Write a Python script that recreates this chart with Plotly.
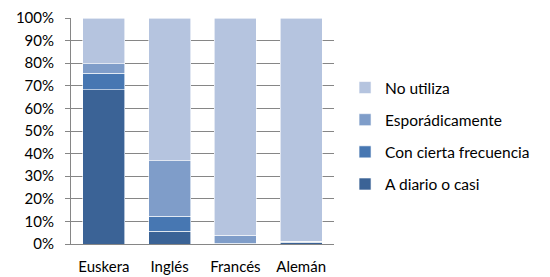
import plotly.graph_objects as go

categories = ["Euskera", "Inglés", "Francés", "Alemán"]
a_diario = [68.3, 5.6, 0.0, 0.8]
con_cierta = [7.3, 6.7, 0.3, 0.2]
esporadico = [4.2, 24.5, 3.6, 0.3]
no_utiliza = [20.2, 63.2, 96.1, 98.7]

series = [
    ("A diario o casi", a_diario, "#3B6396"),
    ("Con cierta frecuencia", con_cierta, "#4777B2"),
    ("Esporádicamente", esporadico, "#7F9DC9"),
    ("No utiliza", no_utiliza, "#B5C4DF"),
]

fig = go.Figure()
for i, (name, vals, color) in enumerate(series):
    fig.add_trace(go.Bar(
        x=categories, y=vals, name=name,
        marker=dict(color=color, line=dict(color="white", width=0.6)),
        legendgroup=str(i),
        legendrank=len(series) - i,
    ))

font = "Lato, 'Open Sans', sans-serif"
fig.update_layout(
    barmode="stack",
    bargap=0.36,
    width=542, height=269,
    margin=dict(l=63, r=216, t=10, b=33),
    plot_bgcolor="white", paper_bgcolor="white",
    font=dict(family=font, size=15, color="#000000"),
    showlegend=True,
    legend=dict(
        traceorder="grouped",
        tracegroupgap=9,
        x=1.042, xanchor="left", y=0.478, yanchor="middle",
        font=dict(size=15.5),
        itemwidth=30,
    ),
    xaxis=dict(
        showline=True, linecolor="#868686", linewidth=1,
        ticks="", tickfont=dict(size=15), ticklabelstandoff=9,
        automargin=False,
    ),
    yaxis=dict(
        range=[0, 100], dtick=10, ticksuffix="%",
        showgrid=True, gridcolor="#868686", gridwidth=1,
        showline=True, linecolor="#868686", linewidth=1,
        ticks="outside", ticklen=5, tickcolor="#868686",
        tickfont=dict(size=15), ticklabelstandoff=8,
        zeroline=False, automargin=False,
    ),
)

fig.write_html("out.html", config={"displayModeBar": False})
